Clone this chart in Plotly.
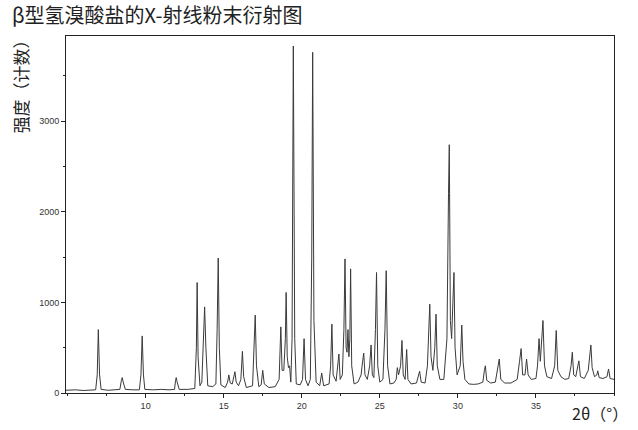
import plotly.graph_objects as go

# Diffraction pattern vertices (2θ in degrees, intensity in counts)
two_theta = [
    4.9, 5.5, 6.0, 6.5, 6.8, 6.9, 6.97, 7.05, 7.15, 7.6, 8.0, 8.35, 8.45, 8.5, 8.58, 8.7,
    9.2, 9.6, 9.7, 9.78, 9.86, 9.95, 10.5, 11.0, 11.5, 11.85, 11.92, 11.96, 12.02, 12.15,
    12.7, 13.15, 13.25, 13.3, 13.36, 13.48, 13.6, 13.72, 13.78, 13.86, 13.98, 14.3, 14.5,
    14.58, 14.65, 14.72, 14.82, 15.1, 15.25, 15.33, 15.42, 15.55, 15.65, 15.72, 15.8, 15.95,
    16.1, 16.2, 16.28, 16.45, 16.85, 16.95, 17.02, 17.1, 17.25, 17.4, 17.5, 17.6, 17.9,
    18.3, 18.55, 18.66, 18.74, 18.85, 18.95, 19.0, 19.07, 19.15, 19.22, 19.3, 19.38, 19.46,
    19.55, 19.65, 19.9, 20.05, 20.15, 20.24, 20.4, 20.55, 20.64, 20.7, 20.78, 20.92, 21.15,
    21.28, 21.4, 21.75, 21.85, 21.93, 22.01, 22.2, 22.3, 22.38, 22.46, 22.6, 22.7, 22.77,
    22.84, 22.9, 22.96, 23.02, 23.08, 23.13, 23.2, 23.35, 23.6, 23.8, 23.9, 23.97, 24.05,
    24.2, 24.35, 24.44, 24.52, 24.62, 24.72, 24.79, 24.87, 25.0, 25.2, 25.33, 25.41, 25.5,
    25.65, 25.9, 26.05, 26.12, 26.2, 26.33, 26.42, 26.5, 26.62, 26.72, 26.8, 27.0, 27.35,
    27.48, 27.55, 27.65, 27.9, 28.05, 28.15, 28.2, 28.28, 28.4, 28.52, 28.6, 28.68, 28.85,
    29.1, 29.3, 29.4, 29.45, 29.52, 29.6, 29.68, 29.75, 29.82, 29.95, 30.15, 30.25, 30.33,
    30.45, 30.7, 31.0, 31.3, 31.6, 31.7, 31.76, 31.85, 32.1, 32.4, 32.55, 32.65, 32.75,
    33.0, 33.4, 33.8, 33.95, 34.05, 34.15, 34.3, 34.4, 34.5, 34.7, 35.0, 35.1, 35.2, 35.28,
    35.38, 35.45, 35.55, 35.7, 36.0, 36.2, 36.3, 36.4, 36.6, 36.85, 37.1, 37.25, 37.33,
    37.42, 37.55, 37.68, 37.75, 37.85, 38.1, 38.35, 38.45, 38.52, 38.6, 38.75, 38.9, 38.96,
    39.05, 39.3, 39.55, 39.65, 39.75, 40.0,
]
intensity = [
    30, 35, 28, 32, 35, 200, 700, 200, 40, 30, 35, 40, 140, 170, 110, 40,
    35, 35, 200, 630, 200, 40, 35, 40, 35, 40, 140, 170, 120, 40,
    40, 50, 500, 1220, 400, 80, 120, 650, 950, 500, 80, 70, 100,
    700, 1490, 500, 90, 60, 120, 200, 110, 100, 200, 235, 120, 80,
    150, 460, 180, 60, 80, 500, 860, 300, 70, 90, 250, 100, 60,
    70, 150, 730, 250, 250, 600, 1110, 400, 280, 300, 120, 600, 3830,
    600, 100, 90, 150, 600, 150, 80, 150, 1500, 3760, 800, 120, 80,
    220, 80, 100, 300, 760, 200, 130, 300, 430, 150, 200, 700, 1480,
    500, 450, 700, 400, 600, 1370, 300, 100, 120, 200, 350, 440, 200,
    150, 300, 530, 200, 170, 700, 1330, 300, 120, 150, 700, 1350, 300,
    100, 110, 150, 280, 200, 300, 580, 200, 150, 480, 150, 100, 110,
    200, 240, 120, 110, 300, 700, 980, 400, 250, 500, 870, 300, 150,
    150, 600, 2200, 2740, 800, 600, 1000, 1330, 500, 200, 300, 750, 350,
    150, 100, 95, 100, 120, 250, 300, 140, 110, 120, 250, 375, 150,
    110, 110, 150, 350, 490, 200, 200, 375, 200, 150, 160, 300, 600, 350,
    600, 800, 300, 180, 160, 300, 690, 250, 180, 150, 160, 300, 450,
    200, 180, 300, 355, 180, 160, 250, 450, 530, 280, 180, 200, 245,
    170, 160, 180, 265, 160, 150,
]

x_ticks = [10, 15, 20, 25, 30, 35]
y_ticks = [0, 1000, 2000, 3000]

title_text = "β型氢溴酸盐的X-射线粉末衍射图"
y_title = "强度（计数）"
x_title = "2θ（°）"

fig = go.Figure()
fig.add_trace(go.Scatter(
    x=two_theta, y=intensity, mode="lines",
    line=dict(color="#3a3a3a", width=1), showlegend=False, hoverinfo="skip",
))

axis_common = dict(
    showgrid=False, zeroline=False, showline=True, linecolor="#222", linewidth=1,
    mirror=True, ticks="outside", ticklen=4, tickcolor="#222", tickwidth=1,
    tickfont=dict(family="Liberation Sans, Arial", size=9, color="#333"),
)
fig.update_xaxes(range=[4.9, 40.0], tickvals=x_ticks,
                 minor=dict(ticks="outside", ticklen=2, dtick=2.5, tick0=0, tickcolor="#222"),
                 **axis_common)
fig.update_yaxes(range=[0, 3940], tickvals=y_ticks,
                 minor=dict(ticks="outside", ticklen=2, dtick=500, tick0=0, tickcolor="#222"),
                 **axis_common)

cjk = "Noto Sans CJK SC"
fig.add_annotation(text=title_text, xref="paper", yref="paper", x=-0.102, y=1.059,
                   xanchor="left", yanchor="middle", showarrow=False,
                   font=dict(family=cjk, size=20, color="#222"))
fig.add_annotation(text=y_title, xref="paper", yref="paper", x=-0.084, y=0.87,
                   xanchor="center", yanchor="middle", textangle=-90, showarrow=False,
                   font=dict(family=cjk, size=17, color="#222"))
fig.add_annotation(text=x_title, xref="paper", yref="paper", x=0.974, y=-0.056,
                   xanchor="center", yanchor="middle", showarrow=False,
                   font=dict(family=cjk, size=16, color="#222"))

fig.update_layout(
    width=638, height=430, paper_bgcolor="white", plot_bgcolor="white",
    margin=dict(l=66, r=24, t=36, b=37),
)
fig.write_html("out.html", config={"displayModeBar": False},
               post_script="document.body.style.margin='0';document.body.style.overflow='hidden';")
